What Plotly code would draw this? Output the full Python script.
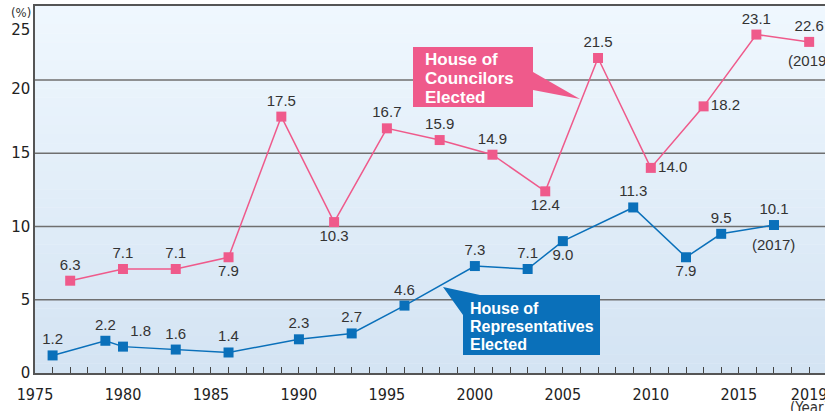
import plotly.graph_objects as go

# ---------------- data ----------------
rep_years = [1976, 1979, 1980, 1983, 1986, 1990, 1993, 1996, 2000, 2003, 2005, 2009, 2012, 2014, 2017]
rep_vals = [1.2, 2.2, 1.8, 1.6, 1.4, 2.3, 2.7, 4.6, 7.3, 7.1, 9.0, 11.3, 7.9, 9.5, 10.1]
rep_pos = ["top center", "top center", "top right", "top center", "top center", "top center",
           "top center", "top center", "top center", "top center", "bottom center", "top center",
           "bottom center", "top center", "top center"]

cou_years = [1977, 1980, 1983, 1986, 1989, 1992, 1995, 1998, 2001, 2004, 2007, 2010, 2013, 2016, 2019]
cou_vals = [6.3, 7.1, 7.1, 7.9, 17.5, 10.3, 16.7, 15.9, 14.9, 12.4, 21.5, 14.0, 18.2, 23.1, 22.6]
cou_pos = ["top center", "top center", "top center", "bottom center", "top center", "bottom center",
           "top center", "top center", "top center", "bottom center", "top center", "middle right",
           "middle right", "top center", "top center"]

x_tick_years = list(range(1975, 2020))
x_tick_labels = ["1975", "1980", "1985", "1990", "1995", "2000", "2005", "2010", "2015", "2019"]
y_grid = [5, 10, 15, 20]
y_tick_labels = ["0", "5", "10", "15", "20", "25"]
y_tick_vals = [0, 5, 10, 15, 19.4, 23.4]

PINK = "#ef5a8b"
BLUE = "#0a70ba"
NARROW = "Liberation Sans Narrow, DejaVu Sans Condensed, sans-serif"

# ---------------- geometry helpers (for callouts only) ----------------
X0, X1 = 1975, 2019.9
Y0, Y1 = 0, 25.05
L, T, W, H = 35, 6, 790, 367


def px2x(px):
    return X0 + (px - L) * (X1 - X0) / W


def py2y(py):
    return Y0 + (T + H - py) * (Y1 - Y0) / H


def px2paper(px):
    return (px - L) / W


def py2paper(py):
    return (T + H - py) / H


def path_from(points):
    return "M " + " L ".join(f"{px2x(a):.4f},{py2y(b):.4f}" for a, b in points) + " Z"


fig = go.Figure()

fig.add_trace(go.Scatter(
    x=cou_years, y=cou_vals, mode="lines+markers+text",
    text=[f"{v:.1f}" for v in cou_vals], textposition=cou_pos,
    textfont=dict(family="Liberation Sans, Arial", size=15, color="#333333"),
    line=dict(color=PINK, width=1.5),
    marker=dict(symbol="square", size=10, color=PINK),
    cliponaxis=False, showlegend=False, hoverinfo="x+y"))

fig.add_trace(go.Scatter(
    x=rep_years, y=rep_vals, mode="lines+markers+text",
    text=[f"{v:.1f}" for v in rep_vals], textposition=rep_pos,
    textfont=dict(family="Liberation Sans, Arial", size=15, color="#333333"),
    line=dict(color=BLUE, width=1.5),
    marker=dict(symbol="square", size=10, color=BLUE),
    cliponaxis=False, showlegend=False, hoverinfo="x+y"))

shapes = []
# gradient background
N = 40
top = (239, 247, 254)
bot = (212, 228, 243)
for i in range(N):
    t = i / (N - 1)
    c = tuple(round(top[k] + (bot[k] - top[k]) * t) for k in range(3))
    shapes.append(dict(type="rect", xref="paper", yref="paper", x0=0, x1=1,
                       y0=1 - (i + 1) / N, y1=1 - i / N + 0.001,
                       fillcolor=f"rgb{c}", line=dict(width=0), layer="below"))
for g in y_grid:
    shapes.append(dict(type="line", xref="paper", x0=0, x1=1, yref="y", y0=g, y1=g,
                       line=dict(color="#6f6f6f", width=1.5), layer="below"))

# callout boxes
shapes.append(dict(type="path", xref="x", yref="y",
                   path=path_from([(413, 47), (533, 47), (533, 72), (580, 99), (533, 90), (533, 107), (413, 107)]),
                   fillcolor=PINK, line=dict(width=0)))
shapes.append(dict(type="path", xref="x", yref="y",
                   path=path_from([(443, 287), (480, 295), (600, 295), (600, 355), (463, 355), (463, 315)]),
                   fillcolor=BLUE, line=dict(width=0)))

annotations = []
for txt, py in zip(["House of", "Councilors", "Elected"], [60, 78, 97]):
    annotations.append(dict(x=px2paper(423), y=py2paper(py), xref="paper", yref="paper", text=f"<b>{txt}</b>",
                            showarrow=False, xanchor="left", yanchor="middle",
                            font=dict(family="Liberation Sans, Arial", size=17, color="white")))
for txt, py in zip(["House of", "Representatives", "Elected"], [308, 326, 344]):
    annotations.append(dict(x=px2paper(468), y=py2paper(py), xref="paper", yref="paper", text=f"<b>{txt}</b>",
                            showarrow=False, xanchor="left", yanchor="middle",
                            font=dict(family="Liberation Sans, Arial", size=16, color="white")))

small = dict(family="Liberation Sans, Arial", size=15, color="#333333")
annotations.append(dict(x=2017, y=rep_vals[-1], xref="x", yref="y", text="(2017)", showarrow=False,
                        yshift=-19, xanchor="center", yanchor="middle", font=small))
annotations.append(dict(x=2019, y=cou_vals[-1], xref="x", yref="y", text="(2019)", showarrow=False,
                        yshift=-19, xanchor="center", yanchor="middle", font=small))
annotations.append(dict(x=px2paper(21), y=py2paper(12), xref="paper", yref="paper", text="(%)", showarrow=False,
                        xanchor="center", yanchor="middle",
                        font=dict(family=NARROW, size=13, color="#333333")))
annotations.append(dict(x=px2paper(809), y=py2paper(408), xref="paper", yref="paper", text="(Year)",
                        showarrow=False, xanchor="center", yanchor="middle",
                        font=dict(family=NARROW, size=15, color="#333333")))

tick_text = [str(y) if str(y) in x_tick_labels else "" for y in x_tick_years]

fig.update_layout(
    width=825, height=411,
    margin=dict(l=L, r=0, t=T, b=411 - T - H, autoexpand=False),
    paper_bgcolor="white", plot_bgcolor="rgba(0,0,0,0)",
    shapes=shapes, annotations=annotations,
    xaxis=dict(range=[X0, X1], tickvals=x_tick_years, ticktext=tick_text,
               ticks="inside", ticklen=6, tickcolor="#444444", tickwidth=1,
               showline=True, linecolor="#555555", linewidth=1.5, mirror=True,
               showgrid=False, zeroline=False, ticklabelstandoff=6, automargin=False,
               ticklabeloverflow="allow",
               tickfont=dict(family=NARROW, size=16, color="#222222")),
    yaxis=dict(range=[Y0, Y1], tickvals=y_tick_vals, ticktext=y_tick_labels,
               ticks="", showline=True, linecolor="#555555", linewidth=1.5,
               showgrid=False, zeroline=False, automargin=False,
               tickfont=dict(family="DejaVu Sans", size=15, color="#222222")),
)

fig.write_html("out.html", config={"displayModeBar": False},
               post_script="document.body.style.margin='0';document.body.style.overflow='hidden';")
